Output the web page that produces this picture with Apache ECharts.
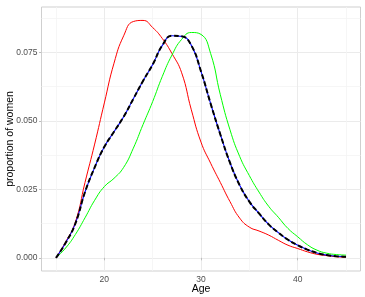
<!DOCTYPE html>
<html>
<head>
<meta charset="utf-8">
<script src="https://cdn.jsdelivr.net/npm/echarts@6/dist/echarts.min.js"></script>
<style>
html,body{margin:0;padding:0;background:#fff;}
#chart{width:365px;height:297px;}
</style>
</head>
<body>
<div id="chart"></div>
<script>
const ages = [15,16,17,18,19,20,21,22,23,24,25,26,27,28,29,30,31,32,33,34,35,36,37,38,39,40,41,42,43,44,45];
const redValues = [0,0.0058,0.0130,0.0275,0.0415,0.0565,0.0710,0.0810,0.0862,0.0866,0.0840,0.0800,0.0745,0.0675,0.0540,0.0422,0.0345,0.0275,0.0205,0.0145,0.0112,0.0098,0.0083,0.0064,0.0046,0.0034,0.0022,0.0013,0.0008,0.0004,0.0002];
const greenValues = [0,0.0036,0.0085,0.0146,0.0210,0.0260,0.0290,0.0330,0.0400,0.0486,0.0570,0.0662,0.0740,0.0797,0.0822,0.0815,0.0745,0.0595,0.0467,0.0370,0.0300,0.0240,0.0188,0.0148,0.0107,0.0077,0.0048,0.0028,0.0017,0.0012,0.0010];
const meanValues = [0,0.0055,0.0125,0.0240,0.0330,0.0405,0.0460,0.0515,0.0580,0.0645,0.0705,0.0775,0.0810,0.0808,0.0775,0.0680,0.0562,0.0450,0.0347,0.0265,0.0205,0.0162,0.0122,0.0092,0.0066,0.0046,0.0030,0.0018,0.0010,0.0006,0.0004];
const xMajorTicks = [20,30,40];
const xMinorTicks = [15,25,35,45];
const yMajorTicks = [0,0.025,0.05,0.075];
const yMinorTicks = [0.0125,0.0375,0.0625,0.0875];
const xTitle = 'Age';
const yTitle = 'proportion of women';

const pairs = vals => ages.map((a,i)=>[a, vals[i]]);
const font = '"Liberation Sans", Arial, sans-serif';
const chart = echarts.init(document.getElementById('chart'), null, {renderer:'canvas'});
const xRange = {min:13.5, max:46.5};
const yRange = {min:-0.0048, max:0.0915};

chart.setOption({
  animation:false,
  backgroundColor:'#ffffff',
  grid:{left:41.5, right:4.5, top:7, bottom:26, show:true, borderColor:'#cfcfcf', borderWidth:1, backgroundColor:'transparent', outerBoundsMode:'none'},
  xAxis:[
    {type:'value', ...xRange, name:xTitle, nameLocation:'middle', nameGap:12.5, nameMoveOverlap:false,
     nameTextStyle:{color:'#000', fontSize:10.5, fontFamily:font},
     axisLine:{show:false},
     axisTick:{show:true, length:2.5, customValues:xMajorTicks, lineStyle:{color:'#bdbdbd', width:1}},
     axisLabel:{customValues:xMajorTicks, color:'#4d4d4d', fontSize:8.5, fontFamily:font, margin:4},
     splitLine:{show:true, lineStyle:{color:'#ebebeb', width:1}}},
    {type:'value', ...xRange, position:'bottom',
     axisLine:{show:false}, axisLabel:{show:false},
     axisTick:{show:false, customValues:xMinorTicks},
     splitLine:{show:true, lineStyle:{color:'#f4f4f4', width:0.8}}}
  ],
  yAxis:[
    {type:'value', ...yRange, name:yTitle, nameLocation:'middle', nameGap:26, nameMoveOverlap:false,
     nameTextStyle:{color:'#000', fontSize:10.5, fontFamily:font},
     axisLine:{show:false},
     axisTick:{show:true, length:2.5, customValues:yMajorTicks, lineStyle:{color:'#bdbdbd', width:1}},
     axisLabel:{customValues:yMajorTicks, color:'#4d4d4d', fontSize:8.5, fontFamily:font, margin:4,
       formatter:v=>v.toFixed(3)},
     splitLine:{show:true, lineStyle:{color:'#ebebeb', width:1}}},
    {type:'value', ...yRange, position:'left',
     axisLine:{show:false}, axisLabel:{show:false},
     axisTick:{show:false, customValues:yMinorTicks},
     splitLine:{show:true, lineStyle:{color:'#f4f4f4', width:0.8}}}
  ],
  series:[
    {name:'red', type:'line', data:pairs(redValues), smooth:0.5, showSymbol:false, lineStyle:{color:'#ff0000', width:1}},
    {name:'green', type:'line', data:pairs(greenValues), smooth:0.5, showSymbol:false, lineStyle:{color:'#00ff00', width:1}},
    {name:'blue', type:'line', data:pairs(meanValues), smooth:0.5, showSymbol:false, lineStyle:{color:'#0000ff', width:1.1}},
    {name:'black', type:'line', data:pairs(meanValues), smooth:0.5, showSymbol:false, lineStyle:{color:'#000000', width:2, type:[5,2.5]}}
  ]
});
</script>
</body>
</html>
